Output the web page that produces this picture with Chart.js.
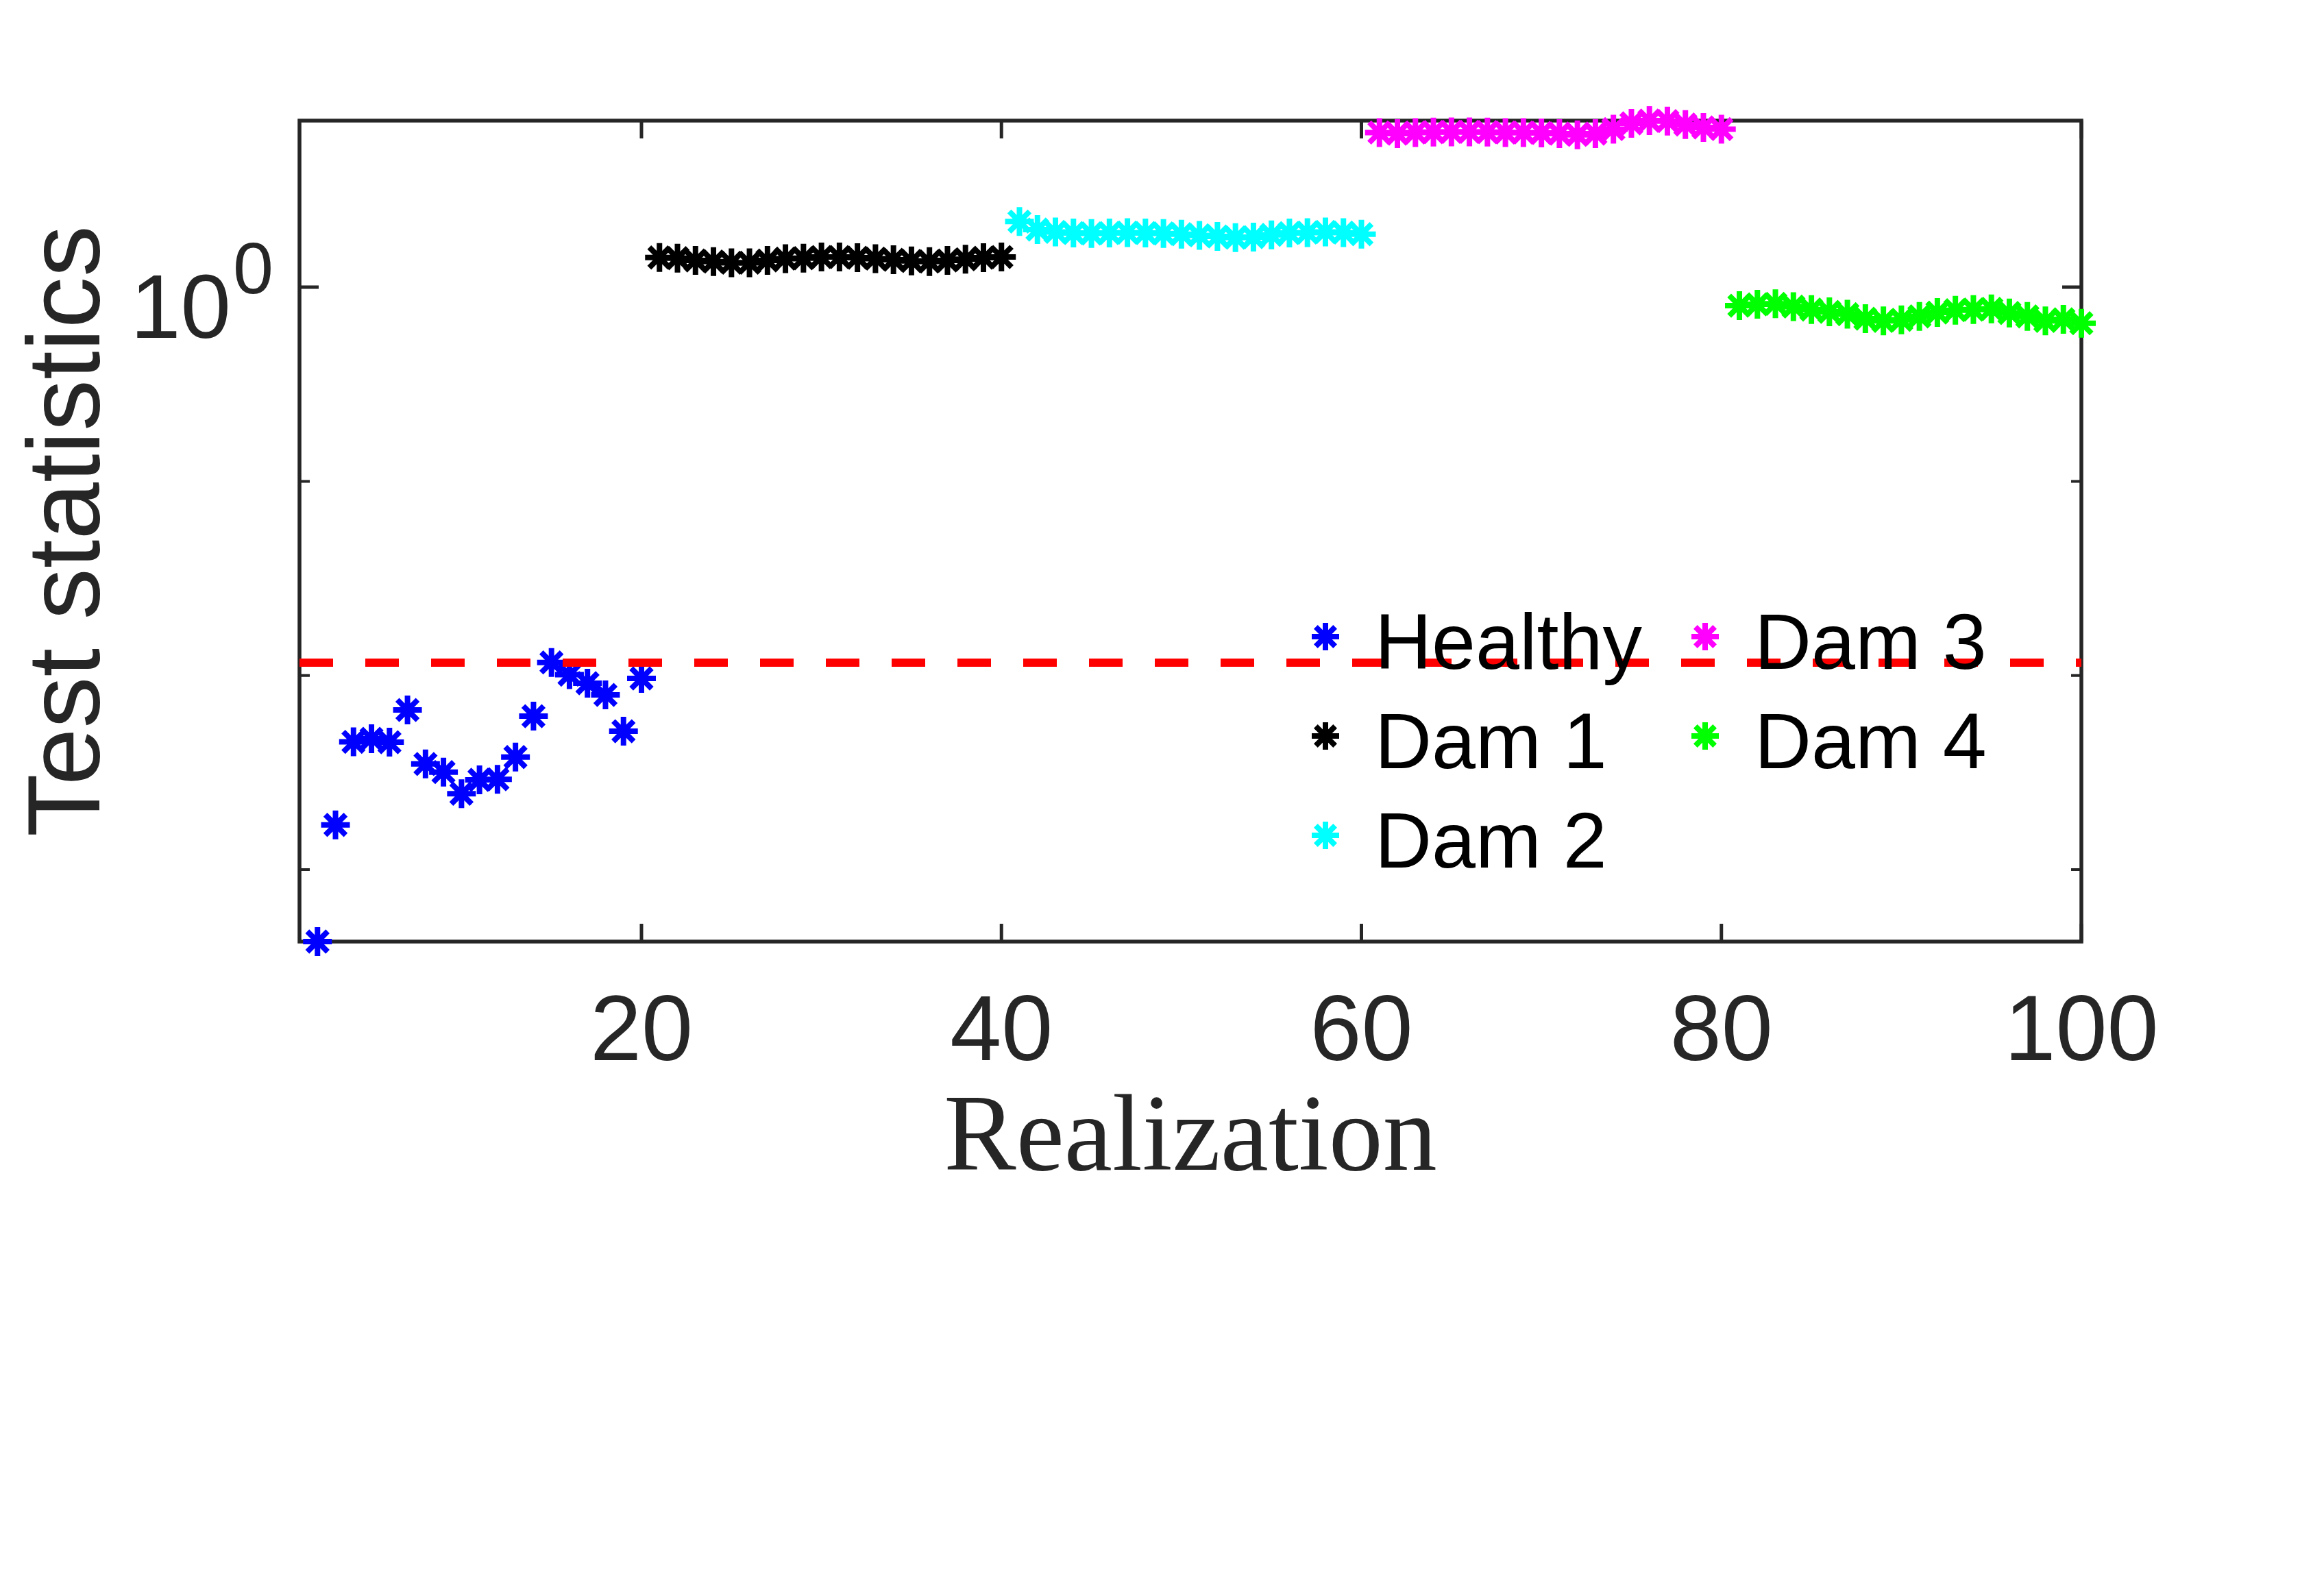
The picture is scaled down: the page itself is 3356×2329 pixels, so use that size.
<!DOCTYPE html>
<html>
<head>
<meta charset="utf-8">
<script src="https://cdn.jsdelivr.net/npm/chart.js@4.4.1/dist/chart.umd.min.js"></script>
<style>
  html, body { margin: 0; padding: 0; background: #ffffff; }
  canvas { display: block; }
</style>
</head>
<body>
<canvas id="c" width="3356" height="2329" style="width:3356px;height:2329px"></canvas>
<script>
// ---------------- data ----------------
const healthyX = [2,3,4,5,6,7,8,9,10,11,12,13,14,15,16,17,18,19,20];
const healthyY = [0.000426,0.00170,0.00455,0.00472,0.00453,0.00664,0.00350,0.00318,0.00246,0.00290,
                  0.00292,0.00380,0.00617,0.01167,0.01009,0.00912,0.00794,0.00516,0.00966];

const dam1X = [21,22,23,24,25,26,27,28,29,30,31,32,33,34,35,36,37,38,39,40];
const dam1Y = [1.422,1.411,1.373,1.355,1.336,1.336,1.373,1.403,1.411,1.430,
               1.430,1.418,1.403,1.384,1.365,1.355,1.373,1.392,1.418,1.430];

const dam2X = [41,42,43,44,45,46,47,48,49,50,51,52,53,54,55,56,57,58,59,60];
const dam2Y = [2.177,1.980,1.926,1.900,1.890,1.900,1.911,1.900,1.890,1.875,
               1.849,1.824,1.800,1.810,1.860,1.900,1.911,1.926,1.911,1.875];

const dam3X = [61,62,63,64,65,66,67,68,69,70,71,72,73,74,75,76,77,78,79,80];
const dam3Y = [6.26,6.18,6.26,6.29,6.31,6.31,6.29,6.26,6.26,6.23,
               6.18,6.09,6.18,6.52,6.98,7.21,7.17,6.88,6.65,6.52];

const dam4X = [81,82,83,84,85,86,87,88,89,90,91,92,93,94,95,96,97,98,99,100];
const dam4Y = [0.803,0.816,0.821,0.794,0.767,0.746,0.726,0.688,0.670,0.679,
               0.707,0.740,0.761,0.767,0.773,0.736,0.707,0.670,0.683,0.652];

const thresholdX = [1, 100];
const thresholdValue = 0.01165;

const seriesLabels = ['Healthy', 'Dam 1', 'Dam 2', 'Dam 3', 'Dam 4'];
const seriesColors = ['#0000FF', '#000000', '#00FFFF', '#FF00FF', '#00FF00'];

const xTickValues = [20, 40, 60, 80, 100];
const yMajorTicks = [1];
const yMinorTicks = [0.1, 0.01, 0.001];
const yMajorLabels = [['10', '0']];   // base, exponent
const xMin = 1, xMax = 100;
const yMin = 0.000426, yMax = 7.21;

const xLabel = 'Realization';
const yLabel = 'Test statistics';

// ---------------- helpers ----------------
const pts = (xs, ys) => xs.map((x, i) => ({ x: x, y: ys[i] }));
const AXIS = '#262626';

function drawAsterisk(ctx, x, y, r, color, lw) {
  ctx.save();
  ctx.strokeStyle = color;
  ctx.lineWidth = lw;
  ctx.lineCap = 'butt';
  ctx.beginPath();
  for (let k = 0; k < 4; k++) {
    const a = k * Math.PI / 4;
    const dx = Math.cos(a) * r, dy = Math.sin(a) * r;
    ctx.moveTo(x - dx, y - dy);
    ctx.lineTo(x + dx, y + dy);
  }
  ctx.stroke();
  ctx.restore();
}

// box + inward ticks (MATLAB style)
const boxPlugin = {
  id: 'boxTicks',
  beforeDatasetsDraw(chart) {
    const { ctx, chartArea: a, scales } = chart;
    ctx.save();
    ctx.strokeStyle = AXIS;
    ctx.lineWidth = 5;
    ctx.lineCap = 'butt';
    ctx.beginPath();
    xTickValues.forEach(v => {
      const px = scales.x.getPixelForValue(v);
      ctx.moveTo(px, a.bottom); ctx.lineTo(px, a.bottom - 26);
      ctx.moveTo(px, a.top); ctx.lineTo(px, a.top + 26);
    });
    yMajorTicks.forEach(v => {
      const py = scales.y.getPixelForValue(v);
      ctx.moveTo(a.left, py); ctx.lineTo(a.left + 28, py);
      ctx.moveTo(a.right, py); ctx.lineTo(a.right - 28, py);
    });
    ctx.stroke();
    ctx.lineWidth = 4;
    ctx.beginPath();
    yMinorTicks.forEach(v => {
      const py = scales.y.getPixelForValue(v);
      ctx.moveTo(a.left, py); ctx.lineTo(a.left + 15, py);
      ctx.moveTo(a.right, py); ctx.lineTo(a.right - 15, py);
    });
    ctx.stroke();
    ctx.lineWidth = 5.5;
    ctx.strokeRect(a.left, a.top, a.right - a.left, a.bottom - a.top);
    ctx.restore();
  },
  afterDraw(chart) {
    // y tick labels with superscript exponent
    const { ctx, chartArea: a, scales } = chart;
    ctx.save();
    ctx.fillStyle = AXIS;
    ctx.textBaseline = 'alphabetic';
    yMajorTicks.forEach((v, i) => {
      const py = scales.y.getPixelForValue(v);
      ctx.font = '132px "Liberation Sans", Arial, sans-serif';
      ctx.textAlign = 'right';
      ctx.fillText(yMajorLabels[i][0], a.left - 100, py + 74);
      ctx.font = '106px "Liberation Sans", Arial, sans-serif';
      ctx.textAlign = 'left';
      ctx.fillText(yMajorLabels[i][1], a.left - 97, py + 9);
    });
    ctx.restore();
  }
};

// legend inside the axes, two columns filled column-wise, no box
const legendPlugin = {
  id: 'insideLegend',
  afterDraw(chart) {
    const { ctx } = chart;
    const colX = [1934, 2488];
    const rowBase = [976, 1121, 1266];
    ctx.save();
    ctx.font = '115px "Liberation Sans", Arial, sans-serif';
    ctx.fillStyle = '#000000';
    ctx.textAlign = 'left';
    ctx.textBaseline = 'alphabetic';
    seriesLabels.forEach((lab, i) => {
      const col = Math.floor(i / 3), row = i % 3;
      const mx = colX[col], base = rowBase[row];
      drawAsterisk(ctx, mx, base - 47, 20, seriesColors[i], 8);
      ctx.fillText(lab, mx + 72, base);
    });
    ctx.restore();
  }
};

const seriesData = [pts(healthyX, healthyY), pts(dam1X, dam1Y), pts(dam2X, dam2Y), pts(dam3X, dam3Y), pts(dam4X, dam4Y)];

const datasets = [{
  label: 'Threshold',
  type: 'line',
  data: thresholdX.map(x => ({ x: x, y: thresholdValue })),
  borderColor: '#FF0000',
  borderWidth: 12,
  borderDash: [49, 47],
  borderCapStyle: 'butt',
  pointRadius: 0,
  fill: false,
  order: 0
}];
seriesLabels.forEach((lab, i) => {
  datasets.push({
    label: lab,
    data: seriesData[i],
    pointStyle: 'star',
    pointRadius: 21,
    pointHoverRadius: 21,
    pointBorderWidth: 8,
    pointHoverBorderWidth: 8,
    borderColor: seriesColors[i],
    backgroundColor: seriesColors[i],
    showLine: false,
    clip: false,
    order: i + 1
  });
});

new Chart(document.getElementById('c').getContext('2d'), {
  type: 'scatter',
  data: { datasets: datasets },
  options: {
    responsive: false,
    animation: false,
    devicePixelRatio: 1,
    events: [],
    layout: { padding: { left: 0, top: 176, right: 319, bottom: 555 } },
    plugins: { legend: { display: false }, tooltip: { enabled: false } },
    scales: {
      x: {
        type: 'linear',
        min: xMin, max: xMax,
        afterBuildTicks: s => { s.ticks = xTickValues.map(v => ({ value: v })); },
        afterFit: s => { s.height = 400; },
        grid: { display: false, drawTicks: false },
        border: { display: false },
        ticks: {
          font: { family: '"Liberation Sans", Arial, sans-serif', size: 135, lineHeight: 1 },
          color: AXIS, padding: 68, maxRotation: 0, autoSkip: false
        },
        title: {
          display: true, text: xLabel, color: AXIS,
          font: { family: '"Liberation Serif", "Times New Roman", serif', size: 158, lineHeight: 1 },
          padding: { top: 0, bottom: 30 }
        }
      },
      y: {
        type: 'logarithmic',
        min: yMin, max: yMax,
        afterBuildTicks: s => { s.ticks = yMajorTicks.concat(yMinorTicks).map(v => ({ value: v })); },
        afterFit: s => { s.width = 437; },
        grid: { display: false, drawTicks: false },
        border: { display: false },
        ticks: { callback: () => '', font: { size: 10 } },
        title: {
          display: true, text: yLabel, color: AXIS,
          font: { family: '"Liberation Sans", Arial, sans-serif', size: 150, lineHeight: 1 },
          padding: { top: 29, bottom: 0 }
        }
      }
    }
  },
  plugins: [boxPlugin, legendPlugin]
});
</script>
</body>
</html>
